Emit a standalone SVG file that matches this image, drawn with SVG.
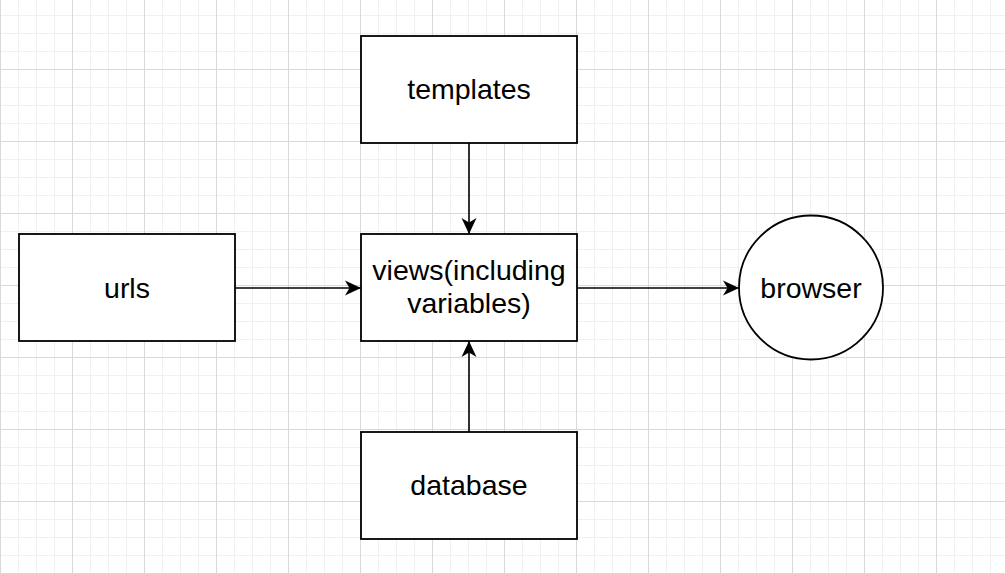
<svg xmlns="http://www.w3.org/2000/svg" width="1005" height="574" viewBox="0 0 1005 574">
  <style>
    .box { fill: #ffffff; stroke: #000000; stroke-width: 1.8; }
    .edge { fill: none; stroke: #000000; stroke-width: 1.6; }
    .lbl { font-family: "Liberation Sans", Arial, Helvetica, sans-serif; font-size: 28.5px; fill: #000000; text-anchor: middle; }
  </style>
  <defs>
    <pattern id="minor" width="18" height="18" patternUnits="userSpaceOnUse" x="0" y="-3">
      <path d="M0 0.5 H18 M0.5 0 V18" stroke="#f0f0f0" stroke-width="1" fill="none"/>
    </pattern>
    <pattern id="major" width="72" height="72" patternUnits="userSpaceOnUse" x="0" y="-3">
      <path d="M0 0.5 H72 M0.5 0 V72" stroke="#d9d9d9" stroke-width="1" fill="none"/>
    </pattern>
    <marker id="arrow" viewBox="0 0 16 16" refX="16" refY="8" markerWidth="16" markerHeight="16" markerUnits="userSpaceOnUse" orient="auto">
      <path d="M16 8 L0 0.5 L4.5 8 L0 15.5 Z" fill="#000000"/>
    </marker>
  </defs>
  <rect width="1005" height="574" fill="#ffffff"/>
  <rect width="1005" height="574" fill="url(#minor)"/>
  <rect width="1005" height="574" fill="url(#major)"/>

  <g id="connectors">
    <line class="edge" x1="469" y1="143" x2="469" y2="234" marker-end="url(#arrow)"/>
    <line class="edge" x1="235" y1="288" x2="361" y2="288" marker-end="url(#arrow)"/>
    <line class="edge" x1="577" y1="288" x2="739" y2="288" marker-end="url(#arrow)"/>
    <line class="edge" x1="469" y1="432" x2="469" y2="341" marker-end="url(#arrow)"/>
  </g>

  <g id="templates">
    <rect class="box" x="361" y="36" width="216" height="107"/>
    <text class="lbl" x="469" y="99">templates</text>
  </g>
  <g id="urls">
    <rect class="box" x="19" y="234" width="216" height="107"/>
    <text class="lbl" x="127" y="297.5">urls</text>
  </g>
  <g id="views">
    <rect class="box" x="361" y="234" width="216" height="107"/>
    <text class="lbl" x="469" y="279.5">views(including</text>
    <text class="lbl" x="469" y="313">variables)</text>
  </g>
  <g id="browser">
    <circle class="box" cx="811" cy="287.5" r="72"/>
    <text class="lbl" x="811" y="297.5">browser</text>
  </g>
  <g id="database">
    <rect class="box" x="361" y="432" width="216" height="107"/>
    <text class="lbl" x="469" y="495">database</text>
  </g>
</svg>
